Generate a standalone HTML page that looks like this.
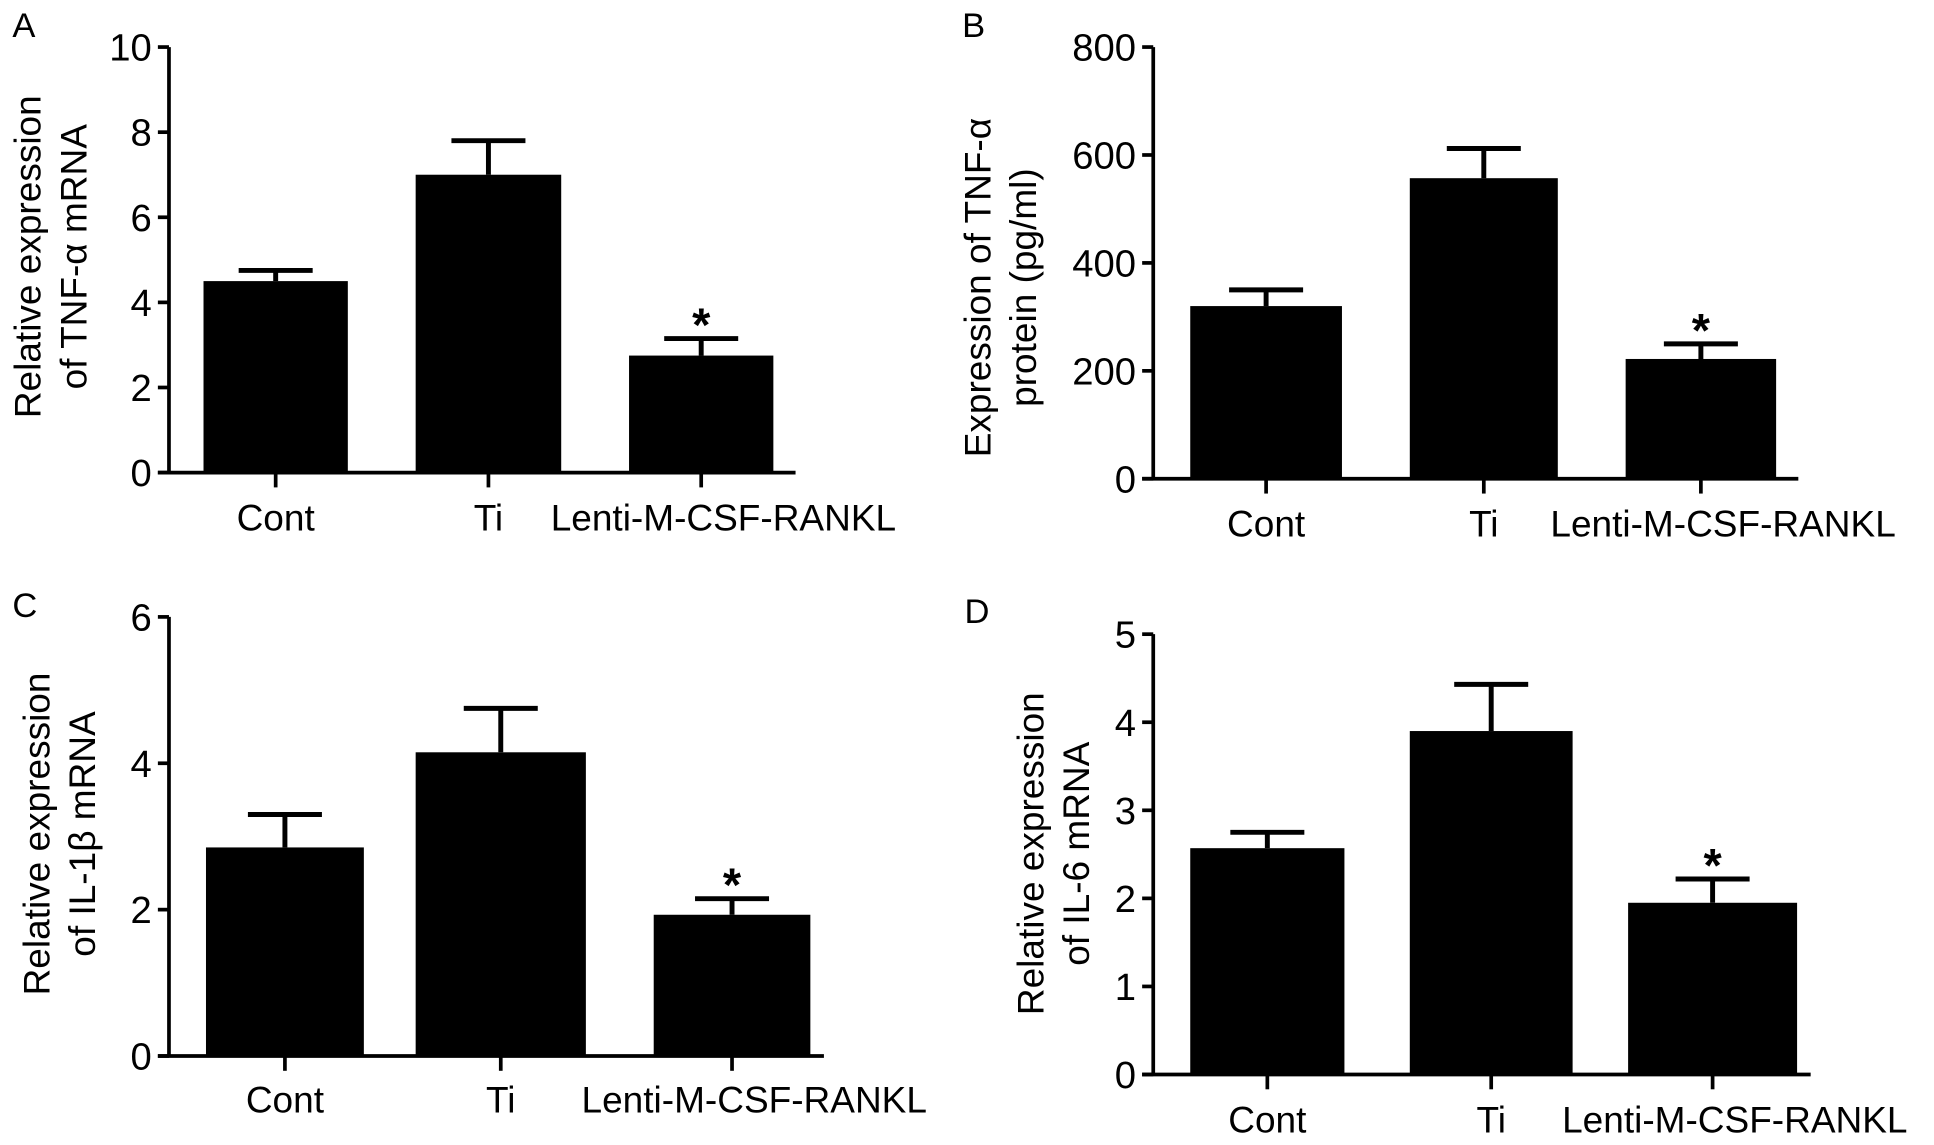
<!DOCTYPE html>
<html><head><meta charset="utf-8"><style>html,body{margin:0;padding:0;background:#fff}svg{display:block}text{font-family:"Liberation Sans",Arial,sans-serif;fill:#000}</style></head>
<body>
<svg id="fig" width="1934" height="1145" viewBox="0 0 1568 928" xmlns="http://www.w3.org/2000/svg"></svg>
<script>
const categories = ["Cont", "Ti", "Lenti-M-CSF-RANKL"];
const valuesA = [4.5, 7.0, 2.75];
const errorsA = [4.75, 7.8, 3.15];
const ticksA = [0, 2, 4, 6, 8, 10];
const valuesB = [320, 557, 222];
const errorsB = [350, 612, 250];
const ticksB = [0, 200, 400, 600, 800];
const valuesC = [2.85, 4.15, 1.93];
const errorsC = [3.3, 4.75, 2.15];
const ticksC = [0, 2, 4, 6];
const valuesD = [2.57, 3.9, 1.95];
const errorsD = [2.75, 4.43, 2.22];
const ticksD = [0, 1, 2, 3, 4, 5];
const sigMarks = [false, false, true];

const NS = "http://www.w3.org/2000/svg";
const svg = document.getElementById("fig");
function mk(tag, attrs, parent) {
  const e = document.createElementNS(NS, tag);
  for (const k in attrs) e.setAttribute(k, attrs[k]);
  (parent || svg).appendChild(e);
  return e;
}
function panel(cfg) {
  const g = mk("g", {});
  
  
  const maxT = cfg.ticks[cfg.ticks.length - 1];
  const y = v => cfg.y0 - (v / maxT) * (cfg.y0 - cfg.yTop);
  const lt = mk("text", {x: cfg.lx, y: cfg.ly, "font-size": 28}, g);
  lt.textContent = cfg.letter;
  
  
  const ya = mk("line", {x1: cfg.ax, y1: cfg.yTop, x2: cfg.ax, y2: cfg.y0, stroke: "#000", "stroke-width": 3}, g);
  
  
  const xa = mk("line", {x1: cfg.ax - 9, y1: cfg.y0, x2: cfg.xEnd, y2: cfg.y0, stroke: "#000", "stroke-width": 3}, g);
  
  
  cfg.ticks.forEach(t => {
    mk("line", {x1: cfg.ax - 9, y1: y(t), x2: cfg.ax, y2: y(t), stroke: "#000", "stroke-width": 3}, g);
    const tl = mk("text", {x: cfg.ax - 14, y: y(t) + 11, "font-size": 31, "text-anchor": "end"}, g);
    tl.textContent = t;
    
    
  });
  categories.forEach((c, i) => {
    const [bx1, bx2] = cfg.bars[i];
    const cx = (bx1 + bx2) / 2;
    const b = mk("rect", {x: bx1, y: y(cfg.values[i]), width: bx2 - bx1, height: cfg.y0 - y(cfg.values[i]), fill: "#000"}, g);
    
    
    const eb = mk("path", {d: `M${cx},${y(cfg.values[i])}V${y(cfg.errors[i])}M${cx - 30},${y(cfg.errors[i])}H${cx + 30}`, stroke: "#000", "stroke-width": 4, fill: "none"}, g);
    
    
    mk("line", {x1: cx, y1: cfg.y0, x2: cx, y2: cfg.y0 + 12, stroke: "#000", "stroke-width": 3}, g);
    const off = i === 2 ? 18 : 0;
    const xl = mk("text", {x: cx + off, y: cfg.xly, "font-size": 30, "text-anchor": "middle"}, g);
    xl.textContent = c;
    
    
    if (sigMarks[i]) {
      const s = mk("text", {x: cx, y: y(cfg.errors[i]) + 2, "font-size": 38, "font-weight": "bold", "text-anchor": "middle"}, g);
      s.textContent = "*";
      
      
    }
  });
  const tt = mk("text", {transform: `translate(${cfg.tx},${cfg.ty}) rotate(-90)`, "font-size": 30, "text-anchor": "middle"}, g);
  
  
  cfg.title.forEach((line, k) => {
    const ts = mk("tspan", {x: 0, dy: k === 0 ? 0 : 37}, tt);
    ts.textContent = line;
  });
}
panel({letter: "A", lx: 10, ly: 30, ax: 137, y0: 383, yTop: 38, xEnd: 645, xly: 430,
  bars: [[165, 282], [337, 455], [510, 627]], values: valuesA, errors: errorsA, ticks: ticksA,
  tx: 33, ty: 208, title: ["Relative expression", "of TNF-\u03b1 mRNA"]});
panel({letter: "B", lx: 780, ly: 30, ax: 935, y0: 388, yTop: 38, xEnd: 1458, xly: 435,
  bars: [[965, 1088], [1143, 1263], [1318, 1440]], values: valuesB, errors: errorsB, ticks: ticksB,
  tx: 803, ty: 233, title: ["Expression of TNF-\u03b1", "protein (pg/ml)"]});
panel({letter: "C", lx: 10, ly: 500, ax: 137, y0: 856, yTop: 500, xEnd: 668, xly: 902,
  bars: [[167, 295], [337, 475], [530, 657]], values: valuesC, errors: errorsC, ticks: ticksC,
  tx: 40, ty: 676, title: ["Relative expression", "of IL-1\u03b2 mRNA"]});
panel({letter: "D", lx: 782, ly: 505, ax: 935, y0: 871, yTop: 514, xEnd: 1468, xly: 918,
  bars: [[965, 1090], [1143, 1275], [1320, 1457]], values: valuesD, errors: errorsD, ticks: ticksD,
  tx: 846, ty: 692, title: ["Relative expression", "of IL-6 mRNA"]});
</script>
</body></html>
